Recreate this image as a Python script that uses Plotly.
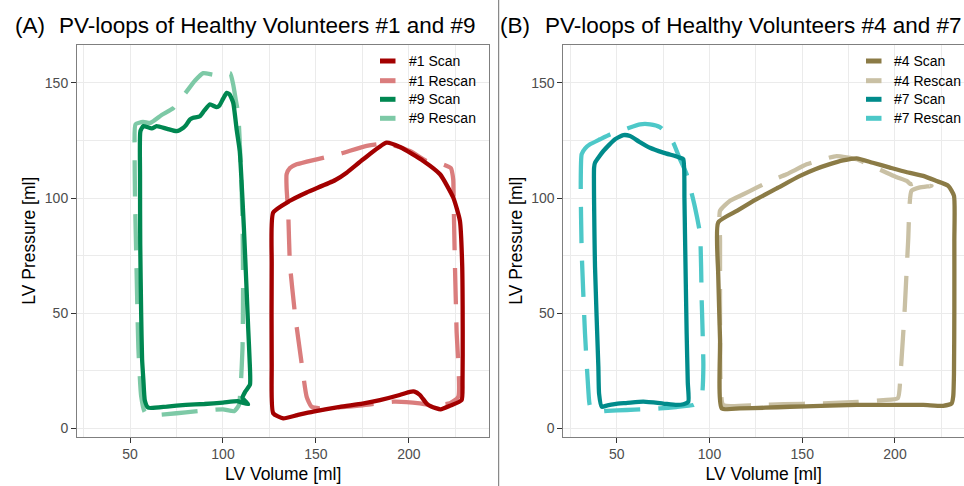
import plotly.graph_objects as go

W, H = 964, 486

# ---------------- data (volume [ml], pressure) ----------------
# Panel A: volunteer #1
vol_1_scan = [127.0, 136.0, 145.0, 160.2, 166.5, 175.4, 188.0, 195.2, 207.7, 216.7, 223.8, 227.4, 228.6, 228.9,
              228.8, 228.3, 222.0, 217.0, 212.0, 209.5, 205.9, 203.0, 200.5, 195.0, 184.4, 175.0, 162.9, 148.5,
              140.0, 132.4, 127.0, 126.2, 126.2, 127.0]
pres_1_scan = [93.7, 98.8, 102.4, 107.7, 111.0, 116.8, 124.0, 122.1, 116.1, 110.3, 100.2, 90.1, 71.4, 42.6,
               20.0, 12.3, 9.8, 8.3, 9.5, 10.8, 14.5, 16.0, 15.9, 14.5, 12.3, 10.8, 9.4, 7.3,
               5.8, 4.4, 6.6, 28.2, 71.4, 93.7]
vol_1_rescan = [134.2, 136.0, 139.6, 150.4, 163.0, 177.3, 188.0, 200.5, 209.5, 218.4, 222.5, 223.8, 224.0, 224.7,
                225.6, 226.5, 222.0, 211.3, 205.9, 191.6, 175.0, 164.0, 152.0, 147.5, 145.0, 142.3, 138.7, 136.0,
                135.1, 134.2, 134.2]
pres_1_rescan = [110.3, 113.0, 114.6, 116.8, 119.2, 122.6, 123.6, 120.4, 116.1, 114.6, 113.0, 108.0, 100.0, 71.4,
                 42.6, 13.7, 10.9, 10.2, 10.9, 11.6, 10.0, 9.3, 8.7, 9.5, 13.7, 28.2, 49.8, 71.4,
                 93.0, 104.5, 110.3]

# Panel A: volunteer #9
vol_9_scan = [59.8, 70.0, 80.0, 90.0, 100.0, 108.0, 113.5, 110.5, 112.0, 114.5, 114.3, 113.6, 112.7, 111.3,
              109.0, 107.4, 105.5, 103.5, 102.0, 100.0, 98.0, 96.6, 93.0, 90.0, 87.6, 84.0, 82.3, 80.0,
              78.7, 75.1, 70.0, 64.3, 61.7, 57.2, 55.6, 55.4, 55.5, 56.0, 56.5, 57.2, 58.0, 59.8]
pres_9_scan = [9.0, 9.5, 10.2, 10.6, 11.2, 11.8, 10.5, 13.3, 16.0, 19.0, 30.0, 42.6, 60.0, 86.0,
               120.4, 129.4, 141.3, 145.0, 145.6, 143.0, 140.0, 139.4, 140.6, 138.0, 135.5, 134.8, 134.1, 131.5,
               130.5, 129.0, 130.0, 131.2, 130.2, 131.2, 129.0, 110.0, 80.0, 50.0, 30.0, 21.0, 12.0, 9.0]
vol_9_rescan = [53.0, 57.0, 61.0, 67.0, 73.3, 80.5, 85.0, 89.4, 94.8, 100.0, 103.8, 105.5, 107.0, 108.2,
                109.5, 110.5, 110.8, 110.5, 109.5, 108.5, 106.0, 100.0, 90.0, 80.0, 70.0, 62.0, 58.0, 56.0,
                54.5, 53.5, 52.7, 52.5, 53.0]
pres_9_rescan = [132.0, 133.0, 132.6, 136.0, 139.0, 146.3, 151.0, 154.2, 153.5, 153.5, 154.2, 149.2, 142.0, 136.3,
                 115.0, 90.0, 60.0, 35.0, 18.0, 10.0, 7.5, 8.3, 7.8, 7.0, 6.2, 5.8, 7.0, 14.0,
                 35.0, 70.0, 100.0, 120.0, 132.0]

# Panel B: volunteer #4
vol_4_scan = [104.7, 115.0, 125.4, 137.0, 148.8, 157.0, 164.9, 172.0, 179.3, 188.0, 197.3, 206.0, 215.2, 222.0,
              228.7, 231.8, 232.0, 232.0, 231.8, 231.4, 230.5, 226.0, 215.2, 200.0, 179.3, 160.0, 143.4, 130.0,
              116.4, 106.6, 105.7, 104.7, 104.7]
pres_4_scan = [89.4, 94.5, 99.5, 104.5, 109.6, 112.5, 114.7, 116.3, 117.2, 115.3, 113.2, 111.3, 109.6, 107.5,
               105.3, 101.0, 81.5, 52.7, 23.9, 14.0, 10.8, 9.8, 10.2, 10.2, 10.2, 9.8, 9.4, 9.0,
               8.7, 8.7, 38.3, 67.1, 89.4]
vol_4_rescan = [105.7, 111.1, 118.0, 125.4, 133.0, 141.6, 152.4, 160.0, 168.5, 179.3, 187.0, 195.5, 201.0, 206.3,
                208.5, 211.6, 215.0, 219.7, 213.0, 208.9, 207.1, 205.3, 203.0, 201.5, 193.7, 180.0, 161.3, 140.0,
                125.4, 107.4, 106.0, 105.7, 105.7, 105.7]
pres_4_rescan = [94.5, 98.8, 101.5, 104.5, 107.5, 110.3, 114.6, 116.5, 118.2, 116.8, 114.0, 111.0, 109.0, 107.4,
                 106.0, 106.7, 105.3, 105.3, 104.5, 103.1, 81.5, 52.7, 23.9, 13.1, 12.3, 11.5, 10.9, 10.5,
                 10.2, 10.2, 20.0, 38.3, 81.5, 94.5]

# Panel B: volunteer #7
vol_7_scan = [37.8, 38.3, 42.8, 49.1, 53.6, 57.2, 62.0, 67.9, 75.1, 81.4, 84.0, 85.9, 86.5, 86.8,
              87.7, 88.3, 88.6, 86.0, 82.3, 75.0, 64.3, 55.0, 51.8, 45.0, 41.9, 40.5, 40.1, 38.3, 37.8]
pres_7_scan = [113.2, 115.3, 120.4, 125.5, 127.3, 126.9, 124.5, 121.8, 119.7, 118.2, 117.5, 116.8, 100.0, 84.4,
               41.2, 20.0, 11.6, 10.5, 10.2, 10.8, 11.6, 11.0, 10.9, 10.0, 9.4, 15.0, 26.7, 70.0, 113.2]
vol_7_rescan = [30.6, 31.1, 33.0, 35.6, 41.0, 46.4, 55.0, 62.6, 68.0, 73.3, 77.0, 80.5, 84.0, 87.7,
                92.2, 94.9, 95.8, 96.7, 95.8, 93.0, 91.3, 82.0, 73.3, 64.0, 55.4, 45.0, 38.3, 35.5,
                34.7, 32.9, 31.1, 30.6]
pres_7_rescan = [106.0, 119.0, 121.5, 123.3, 125.5, 127.6, 130.0, 132.0, 132.0, 130.8, 128.0, 124.0, 117.0, 110.3,
                 95.9, 84.4, 55.6, 26.7, 13.7, 11.0, 10.2, 9.3, 8.7, 8.3, 8.0, 7.6, 7.3, 10.0,
                 16.6, 41.2, 77.2, 106.0]

# series names / colours
names_A = ["#1 Scan", "#1 Rescan", "#9 Scan", "#9 Rescan"]
names_B = ["#4 Scan", "#4 Rescan", "#7 Scan", "#7 Rescan"]
colors_A = ["#A30000", "#DA7D7D", "#008751", "#7DC9A6"]
colors_B = ["#8B7B46", "#C9C0A4", "#008B8B", "#4DC8C8"]

titles = ["PV-loops of Healthy Volunteers #1 and #9", "PV-loops of Healthy Volunteers #4 and #7"]
panel_tags = ["(A)", "(B)"]
x_title = "LV Volume [ml]"
y_title = "LV Pressure [ml]"
x_ticks = [50, 100, 150, 200]
y_ticks = [0, 50, 100, 150]

# ---------------- figure ----------------
fig = go.Figure()

panels = [
    ("x", "y", names_A, colors_A,
     [(vol_1_scan, pres_1_scan), (vol_1_rescan, pres_1_rescan), (vol_9_scan, pres_9_scan), (vol_9_rescan, pres_9_rescan)]),
    ("x2", "y2", names_B, colors_B,
     [(vol_4_scan, pres_4_scan), (vol_4_rescan, pres_4_rescan), (vol_7_scan, pres_7_scan), (vol_7_rescan, pres_7_rescan)]),
]

for xa, ya, names, colors, series in panels:
    # rescans drawn first, scans on top
    order = [1, 3, 0, 2]
    for i in order:
        v, p = series[i]
        dashed = "Rescan" in names[i]
        fig.add_trace(go.Scatter(
            x=v, y=p, mode="lines", name=names[i], xaxis=xa, yaxis=ya,
            line=dict(color=colors[i], width=4.3, dash="36px,18px" if dashed else "solid",
                      shape="spline", smoothing=0.5),
            showlegend=False, hoverinfo="skip",
        ))

def px2x(px):
    return px / W

def px2y(py):
    return 1 - py / H

font_fam = "Liberation Sans, Arial, sans-serif"
ydom = [px2y(436.5), px2y(45)]

axis_common = dict(
    showgrid=True, gridcolor="#EBEBEB", gridwidth=1.1, zeroline=False,
    ticks="outside", ticklen=5, tickwidth=1, tickcolor="#333333",
    tickfont=dict(size=14, color="#4D4D4D", family=font_fam),
    linecolor="#7F7F7F", linewidth=1, showline=True,
)

fig.update_layout(
    width=W, height=H,
    margin=dict(l=0, r=0, t=0, b=0),
    paper_bgcolor="white", plot_bgcolor="white",
    font=dict(family=font_fam, color="black"),
    xaxis=dict(axis_common, domain=[px2x(77), px2x(489.3)], range=[21.5, 243.2], anchor="y",
               tickvals=x_ticks, mirror=True,
               minor=dict(dtick=25, tick0=0, showgrid=True, gridcolor="#EBEBEB", gridwidth=0.6, ticks=""),
               title=dict(text=x_title, font=dict(size=17.5, color="black"), standoff=6)),
    yaxis=dict(axis_common, domain=ydom, range=[-3.5, 166.4], anchor="x",
               tickvals=y_ticks, mirror=True,
               minor=dict(dtick=25, tick0=0, showgrid=True, gridcolor="#EBEBEB", gridwidth=0.6, ticks=""),
               title=dict(text=y_title, font=dict(size=17.5, color="black"), standoff=4)),
    xaxis2=dict(axis_common, domain=[px2x(563.3), 1.0], range=[21.2, 237.2], anchor="y2",
                tickvals=x_ticks, mirror=True,
                minor=dict(dtick=25, tick0=0, showgrid=True, gridcolor="#EBEBEB", gridwidth=0.6, ticks=""),
                title=dict(text=x_title, font=dict(size=17.5, color="black"), standoff=6)),
    yaxis2=dict(axis_common, domain=ydom, range=[-3.5, 166.4], anchor="x2",
                tickvals=y_ticks, mirror=False,
                minor=dict(dtick=25, tick0=0, showgrid=True, gridcolor="#EBEBEB", gridwidth=0.6, ticks=""),
                title=dict(text=y_title, font=dict(size=17.5, color="black"), standoff=4)),
)

annotations = []
shapes = []

# panel titles
for tag, title, tag_x, title_x in [(panel_tags[0], titles[0], 12.7, 57.3), (panel_tags[1], titles[1], 498.0, 543.3)]:
    annotations.append(dict(text=tag, x=px2x(tag_x), y=px2y(25), xref="paper", yref="paper",
                            xanchor="left", yanchor="middle", showarrow=False,
                            font=dict(size=22.5, color="black", family=font_fam)))
    annotations.append(dict(text=title, x=px2x(title_x), y=px2y(25), xref="paper", yref="paper",
                            xanchor="left", yanchor="middle", showarrow=False,
                            font=dict(size=22.5, color="black", family=font_fam)))

# manual legends (short swatches like the original key)
rows_y = [61, 80.7, 99.3, 118.3]
for names, colors, sw_x0, text_x in [(names_A, colors_A, 380, 406.7), (names_B, colors_B, 866, 891.7)]:
    for k, (nm, col) in enumerate(zip(names, colors)):
        shapes.append(dict(type="line", xref="paper", yref="paper",
                           x0=px2x(sw_x0), x1=px2x(sw_x0 + 15.5), y0=px2y(rows_y[k]), y1=px2y(rows_y[k]),
                           line=dict(color=col, width=5)))
        annotations.append(dict(text=nm, x=px2x(text_x), y=px2y(rows_y[k]), xref="paper", yref="paper",
                                xanchor="left", yanchor="middle", showarrow=False,
                                font=dict(size=14, color="black", family=font_fam)))

# separator between the two panels
shapes.append(dict(type="line", xref="paper", yref="paper", x0=px2x(498.7), x1=px2x(498.7), y0=0, y1=1,
                   line=dict(color="#6E6E6E", width=1)))

fig.update_layout(annotations=annotations, shapes=shapes)

fig.write_html("out.html")
